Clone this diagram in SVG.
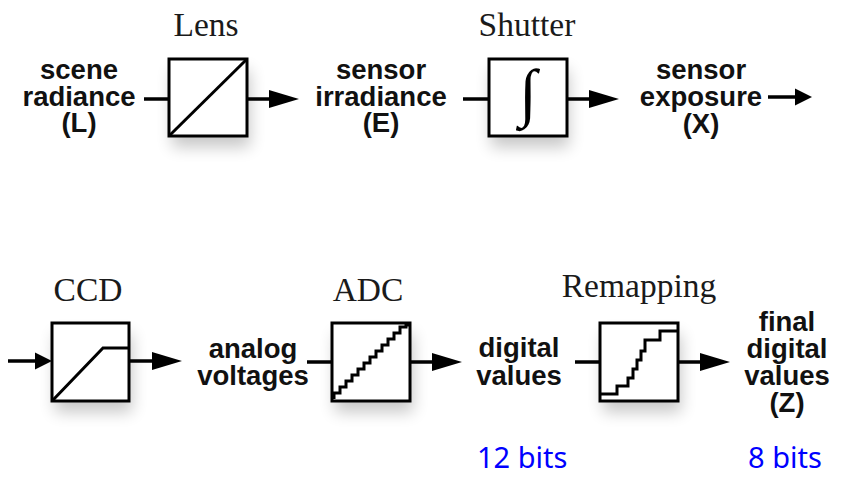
<svg xmlns="http://www.w3.org/2000/svg" width="843" height="477" viewBox="0 0 843 477">
<defs>
<style>
.lbl{font-family:"Liberation Sans",Arial,sans-serif;font-weight:bold;font-size:27.5px;fill:#111;text-anchor:middle}
.ttl{font-family:"Liberation Serif","Times New Roman",serif;font-size:33.5px;fill:#1a1a1a;text-anchor:middle}
.bits{font-family:"Noto Sans",sans-serif;font-size:29px;fill:#0000ff}
.box{fill:#fff;stroke:#000;stroke-width:3}
.shadow{fill:#000;opacity:0.22;filter:url(#blur)}
.fn{fill:none;stroke:#000;stroke-width:3}
.conn{fill:none;stroke:#000;stroke-width:3.5}
</style>
<filter id="blur" x="-50%" y="-50%" width="200%" height="200%"><feGaussianBlur stdDeviation="8"/></filter>
<marker id="big" markerUnits="userSpaceOnUse" markerWidth="30" markerHeight="18" refX="0" refY="9" orient="auto" overflow="visible"><path d="M0,0 L30,9 L0,18 z" fill="#000"/></marker>
<marker id="small" markerUnits="userSpaceOnUse" markerWidth="17" markerHeight="17" refX="0" refY="8.5" orient="auto" overflow="visible"><path d="M0,0 L17,8.5 L0,17 z" fill="#000"/></marker>
</defs>
<rect width="843" height="477" fill="#fff"/>

<g id="scene-radiance"><text class="lbl" y="79"><tspan x="79">scene</tspan><tspan x="79" dy="27">radiance</tspan><tspan x="79" dy="26">(L)</tspan></text></g>

<g id="lens">
<rect class="shadow" x="172" y="70" width="78" height="77"/>
<rect class="box" x="169" y="59" width="78" height="77"/>
<path class="fn" d="M170,135 L246,60"/>
<text class="ttl" x="206" y="36">Lens</text>
</g>

<g id="sensor-irradiance"><text class="lbl" y="79"><tspan x="381">sensor</tspan><tspan x="381" dy="27">irradiance</tspan><tspan x="381" dy="26">(E)</tspan></text></g>

<g id="shutter">
<rect class="shadow" x="491" y="70" width="78" height="77"/>
<rect class="box" x="489" y="59" width="78" height="77"/>
<text x="528" y="114" font-family="'Liberation Serif',serif" font-size="64" text-anchor="middle" fill="#000">∫</text>
<text class="ttl" x="527" y="36">Shutter</text>
</g>

<g id="sensor-exposure"><text class="lbl" y="79"><tspan x="701">sensor</tspan><tspan x="701" dy="27">exposure</tspan><tspan x="701" dy="27">(X)</tspan></text></g>

<g id="ccd">
<rect class="shadow" x="55" y="334" width="77" height="78"/>
<rect class="box" x="52" y="323" width="77" height="78"/>
<path class="fn" d="M53,400 L103,348 H128"/>
<text class="ttl" x="88" y="301">CCD</text>
</g>

<g id="analog-voltages"><text class="lbl" y="358"><tspan x="253">analog</tspan><tspan x="253" dy="27">voltages</tspan></text></g>

<g id="adc">
<rect class="shadow" x="335" y="334" width="78" height="78"/>
<rect class="box" x="332" y="323" width="78" height="78"/>
<path class="fn" d="M334,399 V393 H340 V387 H346 V381 H352 V375 H358 V369 H364 V363 H370 V357 H376 V351 H382 V345 H388 V339 H394 V333 H400 V327 H406 V325 H409"/>
<text class="ttl" x="368" y="301">ADC</text>
</g>

<g id="digital-values"><text class="lbl" y="357"><tspan x="519">digital</tspan><tspan x="519" dy="28">values</tspan></text></g>

<g id="remapping">
<rect class="shadow" x="603" y="334" width="78" height="78"/>
<rect class="box" x="600" y="323" width="78" height="78"/>
<path class="fn" d="M600,394 H617 V386 H628 V378 H633 V369 H637 V360 H641 V351 H645 V340 H660 V331 H677"/>
<text class="ttl" x="639" y="297">Remapping</text>
</g>

<g id="final-digital-values"><text class="lbl" y="331"><tspan x="787">final</tspan><tspan x="787" dy="27">digital</tspan><tspan x="787" dy="27">values</tspan><tspan x="787" dy="27">(Z)</tspan></text></g>

<g id="bit-depths"><text class="bits" x="477" y="468">12 bits</text><text class="bits" x="748" y="468">8 bits</text></g>

<g id="connectors">
<path class="conn" d="M144,99 H169"/>
<path class="conn" d="M247,99 H269" marker-end="url(#big)"/>
<path class="conn" d="M463,99 H489"/>
<path class="conn" d="M567,99 H589" marker-end="url(#big)"/>
<path class="conn" d="M768,97 H795" marker-end="url(#small)"/>
<path class="conn" d="M8,361 H35" marker-end="url(#small)"/>
<path class="conn" d="M129,361 H152" marker-end="url(#big)"/>
<path class="conn" d="M307,362 H332"/>
<path class="conn" d="M410,362 H432" marker-end="url(#big)"/>
<path class="conn" d="M575,362 H600"/>
<path class="conn" d="M678,362 H700" marker-end="url(#big)"/>
</g>
</svg>
